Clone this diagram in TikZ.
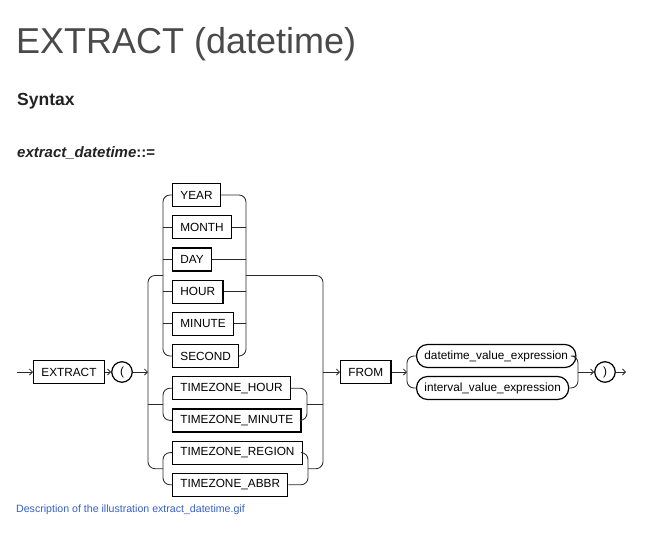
\documentclass[tikz,border=0pt]{standalone}
\usepackage{fontspec}
\setmainfont{Liberation Sans}
\usetikzlibrary{arrows.meta, positioning, calc}
\definecolor{headgray}{HTML}{4A4A4A}
\definecolor{textdark}{HTML}{222222}
\definecolor{linkblue}{HTML}{3560C8}
\definecolor{railgray}{HTML}{2A2A2A}
\tikzset{
  kw/.style={draw=black, line width=1.2pt, minimum height=23pt, inner xsep=7.8pt,
             inner ysep=0pt, anchor=west, font=\fontsize{11.8}{13}\selectfont},
  var/.style={kw, rounded corners=11pt},
  paren/.style={circle, draw=black, line width=1.2pt, minimum size=20.5pt,
                inner sep=0pt, font=\fontsize{11.8}{13}\selectfont},
  rail/.style={draw=railgray, line width=0.85pt, rounded corners=7pt},
  flow/.style={rail, -{Straight Barb[length=3pt, width=6pt]}},
  head/.style={anchor=base west, inner sep=0pt},
}

\begin{document}
\begin{tikzpicture}[x=1pt, y=-1pt]
  \useasboundingbox (0,0) rectangle (667,533);
  % headings
  \node[head, text=headgray, font=\fontsize{36}{40}\selectfont] (title) at (16,53) {EXTRACT (datetime)};
  \node[head, text=textdark, font=\fontsize{17.5}{20}\selectfont\bfseries] (syntax) at (17,105) {Syntax};
  \node[head, text=textdark, font=\fontsize{15}{18}\selectfont\bfseries] (rule) at (17,157) {\textit{extract\_datetime}::=};
  \node[head, text=linkblue, font=\fontsize{10.6}{12}\selectfont] (caption) at (16,512) {Description of the illustration extract\_datetime.gif};

  % rail positions
  \coordinate (start) at (17,372);
  \coordinate (ol) at (148,0);
  \coordinate (il) at (163,0);
  \coordinate (r1) at (246,0);
  \coordinate (r2) at (307,0);
  \coordinate (r3) at (308,0);
  \coordinate (or) at (323,0);
  \coordinate (fl) at (407,0);
  \coordinate (fr) at (578,0);
  \coordinate (end) at (626,372);

  % terminals
  \node[kw] (extract) at (33,372) {EXTRACT};
  \node[paren] (lp) at (122,372) {(};
  \node[kw] (from) at (340,372) {FROM};
  \node[var] (dtv) at (416,356) {datetime\_value\_expression};
  \node[var] (ivl) at (416,388) {interval\_value\_expression};
  \node[paren] (rp) at (605,372) {)};
  \foreach \nm/\txt [count=\i from 0] in {year/YEAR, month/MONTH, day/DAY, hour/HOUR,
      minute/MINUTE, second/SECOND, tzh/TIMEZONE\_HOUR, tzm/TIMEZONE\_MINUTE,
      tzr/TIMEZONE\_REGION, tza/TIMEZONE\_ABBR}
    \node[kw] (\nm) at (172,195+32.2*\i) {\txt};

  \coordinate (g1) at ($(day.west)!0.5!(hour.west)$);
  \coordinate (g2) at ($(tzh.west)!0.5!(tzm.west)$);
  \coordinate (g3) at ($(tzr.west)!0.5!(tza.west)$);

  % field group
  \draw[rail] (year.west) -- (il |- year.west) |- (second.west);
  \draw[rail] (year.east) -| (r1 |- second.east) -- (second.east);
  \foreach \nm in {month, day, hour, minute}{
    \draw[rail] (\nm.west) -- (il |- \nm.west);
    \draw[rail] (\nm.east) -- (r1 |- \nm.east);
  }
  % timezone groups
  \draw[rail] (tzh.west) -- (il |- tzh.west) |- (tzm.west);
  \draw[rail] (tzh.east) -| (r2 |- tzm.east) -- (tzm.east);
  \draw[rail] (tzr.west) -- (il |- tzr.west) |- (tza.west);
  \draw[rail] (tzr.east) -| (r3 |- tza.east) -- (tza.east);

  % outer choice
  \draw[rail] (il |- g1) -- (ol |- g1) -- (ol |- g3) -- (il |- g3);
  \draw[rail] (ol |- g2) -- (il |- g2);
  \draw[rail] (r1 |- g1) -| (or |- g3) -- (r3 |- g3);
  \draw[rail] (r2 |- g2) -- (or |- g2);

  % expression choice
  \draw[rail] (dtv.west) -- (fl |- dtv.west) -- (fl |- ivl.west) -- (ivl.west);
  \draw[rail] (dtv.east) -| (fr |- ivl.east) -- (ivl.east);

  % main line
  \draw[flow] (start) -- (extract);
  \draw[flow] (extract) -- (lp);
  \draw[flow] (lp) -- (ol |- lp);
  \draw[flow] (or |- from) -- (from);
  \draw[flow] (from) -- (fl |- from);
  \draw[flow] (fr |- rp) -- (rp);
  \draw[flow] (rp) -- (end);
\end{tikzpicture}
\end{document}
